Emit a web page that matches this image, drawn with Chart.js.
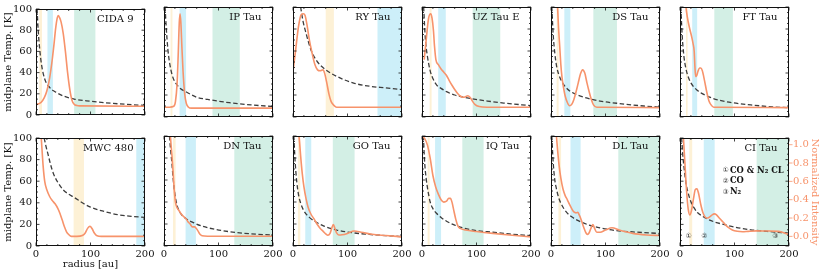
<!DOCTYPE html>
<html>
<head>
<meta charset="utf-8">
<script src="https://cdn.jsdelivr.net/npm/chart.js@4.4.1/dist/chart.umd.min.js"></script>
<style>
  html, body { margin: 0; padding: 0; background: #fff; }
  #fig { position: relative; width: 822px; height: 273px; overflow: hidden; }
  #fig canvas { position: absolute; }
</style>
</head>
<body>
<div id="fig"></div>
<script>
// disks, top row then bottom row
const disks = ["CIDA 9", "IP Tau", "RY Tau", "UZ Tau E", "DS Tau", "FT Tau",
               "MWC 480", "DN Tau", "GO Tau", "IQ Tau", "DL Tau", "CI Tau"];

// midplane temperature [K] vs radius [au] (dashed)
const cida9TR = [2, 4, 7, 10, 16, 25, 35, 50, 70, 100, 140, 200];
const cida9T  = [100, 80, 61, 48, 34, 26, 22, 18, 15, 13, 11, 9];
const ipTR = [2, 4, 7, 10, 15, 20, 30, 40, 60, 80, 120, 160, 200];
const ipT  = [100, 82, 62, 50, 38, 32, 26, 23, 18, 16, 13, 11, 9.5];
const ryTR = [14, 18, 24, 33, 45, 60, 80, 110, 140, 170, 200];
const ryT  = [100, 88, 76, 61, 50, 43, 37, 31, 28, 26.5, 25];
const uzTR = [3, 6, 10, 15, 20, 27, 35, 45, 60, 88, 120, 150, 200];
const uzT  = [100, 72, 55, 42, 35, 29, 26, 23, 20, 17, 14.5, 12.7, 10.3];
const dsTR = [1.5, 4, 7, 10, 14, 20, 30, 40, 60, 90, 130, 170, 200];
const dsT  = [100, 75, 58, 47, 39, 32, 25.5, 22, 18, 14.5, 12, 10, 9];
const ftTR = [1.5, 4, 7, 10, 14, 20, 30, 40, 60, 90, 130, 170, 200];
const ftT  = [100, 74, 56, 46, 38, 31, 25, 21.5, 17, 13.5, 11, 9.2, 8.5];
const mwcTR = [15, 18, 22, 27, 32, 40, 50, 60, 70, 85, 100, 125, 150, 175, 200];
const mwcT  = [100, 93, 85, 75, 67, 59, 52, 48, 45, 40, 36, 32, 29, 27.5, 26.5];
const dnTR = [10, 12, 14, 17, 20, 24, 30, 40, 55, 70, 90, 120, 160, 200];
const dnT  = [100, 88, 78, 60, 47, 37, 30, 25, 21, 18, 15.5, 13, 11, 10];
const goTR = [1.5, 4, 7, 10, 14, 20, 30, 40, 55, 80, 110, 140, 170, 200];
const goT  = [100, 76, 58, 47, 39, 32, 26, 22.5, 18.5, 14.5, 12, 10.5, 9.5, 8.5];
const iqTR = [2.5, 5, 8, 11, 15, 20, 27, 35, 45, 60, 75, 100, 130, 160, 200];
const iqT  = [100, 75, 60, 50, 40, 34, 29.5, 26, 22.5, 19, 16.5, 14, 12.5, 11, 9.3];
const dlTR = [1.5, 4, 7, 10, 14, 20, 28, 38, 50, 70, 90, 120, 150, 200];
const dlT  = [100, 76, 60, 52, 44, 37, 31, 26.5, 23, 19, 16.5, 14, 12.8, 11.4];
const ciTR = [3, 5, 8, 11, 15, 20, 25, 32, 40, 50, 65, 80, 100, 130, 160, 200];
const ciT  = [100, 85, 70, 58, 49, 41, 36, 31, 28, 25, 22, 20, 17.5, 15, 13.5, 12];

// normalized intensity vs radius [au] (orange)
const cida9IR = [0, 5, 10, 15, 20, 25, 30, 33, 36, 39, 41, 43, 46, 50, 54, 58, 62, 66, 70, 75, 80, 200];
const cida9I  = [0.01, 0.02, 0.04, 0.085, 0.165, 0.305, 0.52, 0.68, 0.855, 0.975, 1.0, 0.98, 0.93, 0.8, 0.6, 0.365, 0.18, 0.06, 0.015, 0, -0.004, -0.007];
const ipIR = [0, 10, 18, 21, 24, 26, 28, 29.5, 31, 33, 35, 38, 41, 45, 50, 200];
const ipI  = [0, 0, 0.01, 0.06, 0.25, 0.55, 0.9, 1.0, 0.9, 0.62, 0.38, 0.14, 0.04, 0, -0.01, -0.01];
const ryIR = [0, 5, 10, 15, 19, 22, 26, 30, 35, 40, 45, 50, 55, 58, 62, 66, 70, 75, 80, 200];
const ryI  = [0.38, 0.62, 0.86, 0.99, 1.0, 0.985, 0.87, 0.72, 0.58, 0.46, 0.4, 0.39, 0.4, 0.365, 0.26, 0.14, 0.06, 0.02, 0, 0];
const uzIR = [4, 8, 12, 16, 18.5, 21, 23, 25.5, 30, 35, 40, 45, 50, 55, 60, 65, 70, 75, 80, 84, 88, 92, 97, 105, 120, 200];
const uzI  = [0.51, 0.74, 0.95, 1.0, 0.95, 0.82, 0.65, 0.51, 0.455, 0.41, 0.375, 0.34, 0.285, 0.235, 0.19, 0.15, 0.12, 0.107, 0.113, 0.123, 0.107, 0.07, 0.03, 0.007, 0, -0.001];
const dsIR = [10, 12, 14, 16, 18, 20, 23, 26, 30, 34, 38, 42, 46, 50, 54, 58, 62, 66, 70, 74, 78, 84, 95, 200];
const dsI  = [1.19, 1.07, 0.835, 0.65, 0.46, 0.33, 0.21, 0.12, 0.05, 0.015, 0.03, 0.083, 0.165, 0.26, 0.355, 0.4, 0.365, 0.26, 0.165, 0.083, 0.025, 0, 0, -0.005];
const ftIR = [10, 12, 15, 18, 21, 24, 26, 27.5, 28.7, 30, 33, 36, 38, 41, 45, 49, 53, 57, 62, 70, 200];
const ftI  = [1.13, 1.02, 0.915, 0.835, 0.765, 0.68, 0.6, 0.42, 0.33, 0.33, 0.385, 0.42, 0.42, 0.39, 0.285, 0.165, 0.07, 0.025, 0, 0, -0.005];
const mwcIR = [9, 11, 13, 16, 20, 25, 30, 35, 40, 44, 48, 52, 56, 60, 65, 75, 85, 90, 95, 99, 103, 107, 112, 120, 200];
const mwcI  = [1.13, 0.95, 0.775, 0.6, 0.505, 0.435, 0.39, 0.355, 0.305, 0.25, 0.18, 0.107, 0.05, 0.02, 0, 0, 0.01, 0.035, 0.09, 0.11, 0.083, 0.037, 0.007, 0, 0];
const dnIR = [11, 13, 15, 17, 19, 21, 24, 28, 32, 36, 40, 44, 48, 52, 56, 59, 62, 66, 70, 80, 200];
const dnI  = [1.13, 0.975, 0.835, 0.66, 0.48, 0.365, 0.305, 0.27, 0.235, 0.21, 0.19, 0.155, 0.13, 0.1, 0.1, 0.085, 0.06, 0.02, 0.005, 0, 0];
const goIR = [10, 12, 14, 17, 20, 24, 28, 33, 38, 44, 50, 55, 60, 64, 68, 71, 74, 77, 80, 84, 90, 100, 112, 125, 145, 170, 200];
const goI  = [1.13, 1.01, 0.86, 0.67, 0.53, 0.4, 0.305, 0.235, 0.19, 0.13, 0.083, 0.055, 0.025, 0.01, 0.03, 0.083, 0.125, 0.083, 0.035, 0.013, 0.015, 0.03, 0.055, 0.043, 0.02, 0.007, -0.007];
const iqIR = [0, 5, 10, 15, 20, 25, 30, 35, 40, 45, 49, 52, 55, 58, 62, 66, 70, 80, 100, 130, 160, 200];
const iqI  = [1.07, 1.045, 0.975, 0.835, 0.65, 0.53, 0.45, 0.39, 0.365, 0.375, 0.405, 0.405, 0.365, 0.285, 0.18, 0.107, 0.083, 0.066, 0.05, 0.03, 0.013, -0.007];
const dlIR = [10, 12, 15, 18, 22, 26, 30, 34, 38, 42, 46, 49, 52, 56, 60, 64, 67, 70, 74, 77, 80, 84, 90, 100, 112, 125, 150, 175, 200];
const dlI  = [1.07, 0.93, 0.75, 0.625, 0.505, 0.435, 0.39, 0.34, 0.295, 0.26, 0.25, 0.255, 0.225, 0.165, 0.095, 0.037, 0.02, 0.037, 0.095, 0.125, 0.083, 0.042, 0.042, 0.066, 0.09, 0.066, 0.03, 0.013, 0.007];
const ciIR = [6, 9, 12, 15, 18, 21, 25, 28, 31, 34, 38, 42, 47, 51, 55, 59, 63, 67, 72, 80, 88, 96, 105, 115, 125, 140, 160, 180, 190, 200];
const ciI  = [1.1, 0.8, 0.5, 0.3, 0.235, 0.28, 0.42, 0.51, 0.52, 0.47, 0.35, 0.26, 0.205, 0.2, 0.215, 0.235, 0.245, 0.235, 0.2, 0.15, 0.1, 0.07, 0.055, 0.05, 0.055, 0.06, 0.058, 0.055, 0.04, 0.02];

// snowline bands [au], one per disk (null = outside 200 au)
const bandCL = [[6, 11], [12, 15.5], [60, 75], [14, 17.6], [10.4, 14], [11, 14],
                [69, 88], [16.5, 21.3], [9, 13.4], [10.3, 14], [13.6, 18.5], [17, 22.4]];
const bandCO = [[21, 31], [28.6, 40.5], [155, 200], [29.7, 43.6], [24.5, 35.5], [22.4, 31.5],
                [184, 200], [39.6, 58.5], [22.5, 33.5], [24, 35], [35.8, 54.3], [43.6, 63.6]];
const bandN2 = [[70, 109], [89, 139], null, [93, 143.6], [77.7, 121], [63, 97],
                null, [129, 200], [73, 113], [74, 113], [123.5, 200], [140.6, 200]];

// axis ticks
const tempTicks = [0, 20, 40, 60, 80, 100];
const tempMinor = [5, 10, 15, 25, 30, 35, 45, 50, 55, 65, 70, 75, 85, 90, 95];
const radiusTicks = [0, 100, 200];
const radiusMinor = [20, 40, 60, 80, 120, 140, 160, 180];
const intenTicks = [0, 0.2, 0.4, 0.6, 0.8, 1.0];

// CI Tau annotations
const legendMarks = ["\u2460", "\u2461", "\u2462"];
const legendText = ["CO & N\u2082 CL", "CO", "N\u2082"];
const noteR = [16, 44.7, 175];
const noteI = [0, 0, 0];

const tempSets = [[cida9TR, cida9T], [ipTR, ipT], [ryTR, ryT], [uzTR, uzT], [dsTR, dsT], [ftTR, ftT],
                  [mwcTR, mwcT], [dnTR, dnT], [goTR, goT], [iqTR, iqT], [dlTR, dlT], [ciTR, ciT]];
const intenSets = [[cida9IR, cida9I], [ipIR, ipI], [ryIR, ryI], [uzIR, uzI], [dsIR, dsI], [ftIR, ftI],
                   [mwcIR, mwcI], [dnIR, dnI], [goIR, goI], [iqIR, iqI], [dlIR, dlI], [ciIR, ciI]];

const ORANGE = "#f7936b";
const INK = "#111";
const SERIF = "'DejaVu Serif', 'DejaVu Sans', serif";
const colLeft = [36, 164, 293, 422, 551, 680];
const rowTop = [7, 136];
const PW = 109, PH = 110;

Chart.defaults.font.family = SERIF;
Chart.defaults.font.size = 10;
Chart.defaults.color = INK;

function tickLines(ctx, pts, len, dir) {
  pts.forEach(([x, y]) => {
    ctx.beginPath();
    ctx.moveTo(x, y);
    ctx.lineTo(x + dir[0] * len, y + dir[1] * len);
    ctx.stroke();
  });
}

const deco = {
  id: "deco",
  beforeDatasetsDraw(chart, args, o) {
    const { ctx, chartArea: a, scales: { x } } = chart;
    ctx.save();
    ctx.beginPath();
    ctx.rect(a.left, a.top, a.width, a.height);
    ctx.clip();
    [[bandCL, "#fdf1d6"], [bandCO, "#cdeff9"], [bandN2, "#d3efe5"]].forEach(([bands, color]) => {
      const b = bands[o.k];
      if (!b) return;
      const x0 = x.getPixelForValue(b[0]);
      const x1 = x.getPixelForValue(b[1]);
      ctx.fillStyle = color;
      ctx.fillRect(x0, a.top, x1 - x0, a.height);
    });
    ctx.restore();
  },
  afterDatasetsDraw(chart, args, o) {
    const { ctx, chartArea: a, scales: { x, y, yI } } = chart;
    ctx.save();
    // frame
    ctx.strokeStyle = INK;
    ctx.lineWidth = 1;
    ctx.strokeRect(a.left + 0.5, a.top + 0.5, a.width - 1, a.height - 1);
    // inward ticks on all sides
    ctx.lineWidth = 0.8;
    const xs = v => x.getPixelForValue(v);
    const ys = v => y.getPixelForValue(v);
    tickLines(ctx, radiusTicks.map(v => [xs(v), a.bottom]), 3.5, [0, -1]);
    tickLines(ctx, radiusMinor.map(v => [xs(v), a.bottom]), 2, [0, -1]);
    tickLines(ctx, radiusTicks.map(v => [xs(v), a.top]), 3.5, [0, 1]);
    tickLines(ctx, radiusMinor.map(v => [xs(v), a.top]), 2, [0, 1]);
    tickLines(ctx, tempTicks.map(v => [a.left, ys(v)]), 3.5, [1, 0]);
    tickLines(ctx, tempMinor.map(v => [a.left, ys(v)]), 2, [1, 0]);
    tickLines(ctx, tempTicks.map(v => [a.right, ys(v)]), 3.5, [-1, 0]);
    tickLines(ctx, tempMinor.map(v => [a.right, ys(v)]), 2, [-1, 0]);
    // disk name
    ctx.fillStyle = INK;
    ctx.font = "10px " + SERIF;
    ctx.textAlign = "right";
    ctx.textBaseline = "middle";
    ctx.fillText(disks[o.k], a.right - 11.5, a.top + 10);
    if (o.last) {
      ctx.strokeStyle = ORANGE;
      tickLines(ctx, intenTicks.map(v => [a.right, yI.getPixelForValue(v)]), 3.5, [1, 0]);
      ctx.textAlign = "left";
      legendMarks.forEach((m, i) => {
        const ly = a.top + 32.5 + i * 10.8;
        ctx.font = "7px 'DejaVu Sans', sans-serif";
        ctx.fillStyle = "#333";
        ctx.fillText(m, a.left + 42.5, ly);
        ctx.font = "bold 8.3px " + SERIF;
        ctx.fillStyle = INK;
        ctx.fillText(legendText[i], a.left + 50, ly);
      });
      ctx.textAlign = "center";
      ctx.font = "7px 'DejaVu Sans', sans-serif";
      ctx.fillStyle = "#333";
      noteR.forEach((r, i) => {
        ctx.fillText(legendMarks[i], xs(r), yI.getPixelForValue(noteI[i]));
      });
    }
    ctx.restore();
  }
};

const fig = document.getElementById("fig");

disks.forEach((name, k) => {
  const row = Math.floor(k / 6), col = k % 6;
  const last = k === 11;
  const padL = col === 0 ? 35 : 6;
  const padR = last ? 33 : 12;
  const padT = 8;
  const padB = row === 1 ? 27 : 8;
  const w = PW + padL + padR, h = PH + padT + padB;

  const cv = document.createElement("canvas");
  cv.width = w;
  cv.height = h;
  cv.style.width = w + "px";
  cv.style.height = h + "px";
  cv.style.left = (colLeft[col] - padL) + "px";
  cv.style.top = (rowTop[row] - padT) + "px";
  fig.appendChild(cv);

  const [tr, tv] = tempSets[k];
  const [ir, iv] = intenSets[k];

  new Chart(cv, {
    type: "line",
    data: {
      datasets: [
        {
          data: ir.map((r, i) => ({ x: r, y: iv[i] })),
          yAxisID: "yI",
          borderColor: ORANGE,
          borderWidth: 1.6,
          pointRadius: 0,
          cubicInterpolationMode: "monotone",
        },
        {
          data: tr.map((r, i) => ({ x: r, y: tv[i] })),
          yAxisID: "y",
          borderColor: "#3d3d3d",
          borderWidth: 1.3,
          borderDash: [4.5, 2.5],
          pointRadius: 0,
          cubicInterpolationMode: "monotone",
        },
      ],
    },
    options: {
      responsive: false,
      devicePixelRatio: 1,
      animation: false,
      events: [],
      layout: { padding: { top: padT, left: 0, right: 0, bottom: 0 } },
      plugins: { legend: { display: false }, tooltip: { enabled: false }, deco: { k, last } },
      scales: {
        x: {
          type: "linear",
          min: 0,
          max: 200,
          grid: { display: false, drawTicks: false },
          border: { display: false },
          ticks: { display: row === 1, padding: 2, maxRotation: 0, autoSkip: false },
          afterBuildTicks: s => { s.ticks = radiusTicks.map(v => ({ value: v })); },
          afterFit: s => { s.height = padB; },
          title: { display: row === 1 && col === 0, text: "radius [au]", padding: { top: 0, bottom: 3 } },
        },
        y: {
          position: "left",
          min: 0,
          max: 100,
          grid: { display: false, drawTicks: false },
          border: { display: false },
          ticks: { display: col === 0, padding: 4 },
          afterBuildTicks: s => { s.ticks = tempTicks.map(v => ({ value: v })); },
          afterFit: s => { s.width = padL; },
          title: { display: col === 0, text: "midplane Temp. [K]", padding: { top: 1, bottom: 0 } },
        },
        yI: {
          position: "right",
          min: -0.105,
          max: 1.073,
          grid: { display: false, drawTicks: false },
          border: { display: false },
          ticks: { display: last, padding: 4, color: ORANGE, callback: v => v.toFixed(1) },
          afterBuildTicks: s => { s.ticks = intenTicks.map(v => ({ value: v })); },
          afterFit: s => { s.width = padR; },
          title: { display: last, text: "Normalized Intensity", color: ORANGE, padding: { top: 1.5, bottom: 0 } },
        },
      },
    },
    plugins: [deco],
  });
});
</script>
</body>
</html>
